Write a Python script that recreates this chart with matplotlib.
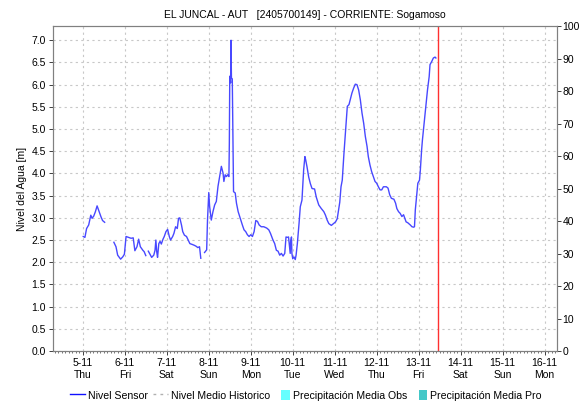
from datetime import datetime, timedelta

import matplotlib
matplotlib.use("Agg")
import matplotlib.pyplot as plt
import matplotlib.dates as mdates
from matplotlib.patches import Patch, Rectangle
from matplotlib.lines import Line2D
from matplotlib.legend_handler import HandlerPatch
import numpy as np

plt.rcParams["font.family"] = ["Liberation Sans", "DejaVu Sans"]

titulo = "EL JUNCAL - AUT   [2405700149] - CORRIENTE: Sogamoso"

# fractional day of november 2020, nan marks a gap in the sensor record
dias = [5.01, 5.05, 5.09, 5.14, 5.19, 5.22, 5.26, 5.30, 5.34, 5.38, 5.43, 5.47, 5.52,
        5.60,
        5.74, 5.79, 5.83, 5.90, 5.95, 5.99, 6.03, 6.09, 6.15, 6.20, 6.24, 6.29, 6.33,
        6.37, 6.43, 6.46, 6.50,
        6.53,
        6.56, 6.61, 6.64, 6.69, 6.72, 6.74, 6.76, 6.78, 6.81, 6.84, 6.87, 6.91, 6.94,
        6.98, 7.02, 7.06, 7.09, 7.14, 7.17, 7.21, 7.25, 7.28, 7.31, 7.35, 7.38, 7.42,
        7.47, 7.51, 7.55, 7.61, 7.66, 7.70, 7.74, 7.78, 7.81,
        7.86,
        7.90, 7.95, 7.97, 8.00, 8.02, 8.06, 8.10, 8.14, 8.18, 8.22, 8.26, 8.30, 8.34,
        8.36, 8.39, 8.42, 8.45, 8.48, 8.49, 8.50, 8.52, 8.53, 8.54, 8.56, 8.58, 8.59,
        8.63, 8.66, 8.70, 8.75, 8.80, 8.84, 8.88, 8.92, 8.96, 9.00, 9.04, 9.08, 9.12,
        9.16, 9.20, 9.25, 9.31, 9.38, 9.43, 9.47, 9.53, 9.57, 9.61, 9.65, 9.69, 9.73,
        9.77, 9.81, 9.84, 9.87, 9.90, 9.94, 9.95, 9.97, 9.98, 10.00, 10.03, 10.06,
        10.08, 10.11, 10.15, 10.18, 10.22, 10.26, 10.29, 10.31, 10.34, 10.38, 10.42,
        10.46, 10.52, 10.56, 10.62, 10.68, 10.74, 10.78, 10.82, 10.86, 10.92, 10.97,
        11.02, 11.06, 11.09, 11.12, 11.15, 11.18, 11.22, 11.26, 11.30, 11.34, 11.38,
        11.41, 11.45, 11.49, 11.53, 11.57, 11.61, 11.65, 11.69, 11.73, 11.77, 11.80,
        11.84, 11.88, 11.92, 11.96, 12.00, 12.04, 12.08, 12.12, 12.16, 12.20, 12.23,
        12.27, 12.31, 12.35, 12.41, 12.45, 12.48, 12.52, 12.56, 12.60, 12.64, 12.67,
        12.70, 12.74, 12.80, 12.84, 12.88, 12.90, 12.92, 12.95, 12.98, 13.02, 13.04,
        13.07, 13.09, 13.13, 13.17, 13.21, 13.25, 13.27, 13.31, 13.35, 13.39, 13.41]
nivel = [2.58, 2.56, 2.76, 2.84, 3.06, 2.99, 3.04, 3.14, 3.27, 3.16, 3.03, 2.94, 2.90,
         np.nan,
         2.45, 2.35, 2.16, 2.07, 2.12, 2.18, 2.58, 2.56, 2.54, 2.55, 2.26, 2.35, 2.52,
         2.35, 2.27, 2.24, 2.15,
         np.nan,
         2.25, 2.16, 2.11, 2.16, 2.27, 2.50, 2.24, 2.11, 2.42, 2.47, 2.41, 2.52, 2.58,
         2.69, 2.74, 2.58, 2.50, 2.58, 2.65, 2.80, 2.76, 2.99, 3.00, 2.84, 2.69, 2.61,
         2.58, 2.50, 2.42, 2.40, 2.38, 2.36, 2.33, 2.35, 2.09,
         np.nan,
         2.22, 2.28, 2.95, 3.57, 3.26, 2.95, 3.14, 3.29, 3.37, 3.71, 3.93, 4.16, 4.01,
         3.82, 3.97, 3.93, 3.97, 3.93, 4.68, 6.19, 6.04, 7.00, 6.15, 6.13, 4.46, 3.59,
         3.56, 3.33, 3.14, 2.99, 2.84, 2.73, 2.69, 2.62, 2.58, 2.62, 2.58, 2.69, 2.94,
         2.92, 2.84, 2.80, 2.80, 2.77, 2.73, 2.65, 2.50, 2.42, 2.27, 2.25, 2.16, 2.20,
         2.14, 2.20, 2.57, 2.56, 2.57, 2.20, 2.46, 2.57, 2.20, 2.08, 2.12, 2.06,
         2.16, 2.42, 2.87, 3.25, 3.40, 4.08, 4.38, 4.30, 4.15, 3.92, 3.77,
         3.66, 3.65, 3.47, 3.29, 3.21, 3.14, 3.06, 2.95, 2.87, 2.83, 2.87,
         2.91, 2.98, 3.17, 3.35, 3.70, 3.85, 4.45, 4.98, 5.51, 5.55, 5.70,
         5.81, 5.92, 6.01, 6.00, 5.88, 5.66, 5.36, 5.13, 4.83, 4.61, 4.38,
         4.19, 4.04, 3.93, 3.82, 3.78, 3.70, 3.63, 3.63, 3.70, 3.70, 3.70,
         3.67, 3.52, 3.44, 3.42, 3.33, 3.21, 3.14, 3.10, 3.03, 3.07, 2.99,
         2.91, 2.89, 2.84, 2.80, 2.79, 2.80, 3.18, 3.48, 3.78, 3.85, 4.08,
         4.53, 4.76, 5.13, 5.51, 5.88, 6.18, 6.45, 6.52, 6.60, 6.62, 6.60]

dia_actual = 13.45
ticks_dias = list(range(5, 17))
dias_semana = ["Thu", "Fri", "Sat", "Sun", "Mon", "Tue", "Wed", "Thu", "Fri", "Sat", "Sun", "Mon"]

base = datetime(2020, 10, 31)


def a_fecha(d):
    return base + timedelta(days=d)


def barra_estrecha(legend, orig_handle, xdescent, ydescent, width, height, fontsize):
    # narrow colour block at the right end of the handle box
    w = 6
    return Rectangle((-xdescent + width - w, -ydescent), w, height)


fechas = [a_fecha(d) for d in dias]

fig = plt.figure(figsize=(5.8, 4.04), dpi=100)
ax = fig.add_axes([0.0914, 0.131, 0.8686, 0.8046])
ax2 = ax.twinx()

azul = "#4848ff"
ax.plot(fechas, nivel, color=azul, lw=1.0)
ax.axvline(a_fecha(dia_actual), color="#ff3030", lw=1.0)

ax.set_xlim(a_fecha(4.29), a_fecha(16.29))
ax.set_ylim(0, 7.32)
ax.set_yticks(np.arange(0, 7.01, 0.5))
ax.set_yticklabels([f"{v:.1f}" for v in np.arange(0, 7.01, 0.5)])
ax2.set_ylim(0, 100)
ax2.set_yticks(range(0, 101, 10))

ax.set_xticks([a_fecha(d) for d in ticks_dias])
ax.set_xticklabels([f"{d}-11\n{s}" for d, s in zip(ticks_dias, dias_semana)])
ax.xaxis.set_minor_locator(mdates.HourLocator(byhour=range(0, 24, 2)))

ax.grid(True, color="#c8c8c8", ls=(0, (2, 3)), lw=0.8)
for a in (ax, ax2):
    a.tick_params(labelsize=7.5, length=3, width=0.7, color="#404040", pad=2)
    for s in a.spines.values():
        s.set_color("#808080")
        s.set_linewidth(0.8)
ax2.tick_params(pad=1)
ax.tick_params(axis="x", which="minor", length=1.5, width=0.5, color="#404040")
ax.set_ylabel("Nivel del Agua [m]", fontsize=7.5, labelpad=3)
ax.set_title(titulo, fontsize=7.5, pad=6)

obs = Patch(facecolor="#66ffff", edgecolor="none")
pro = Patch(facecolor="#44c8c8", edgecolor="none")
handles = [
    Line2D([], [], color="#1010ff", lw=1.0),
    Line2D([], [], color="#b0b0b0", lw=1.0, ls=(0, (2, 3))),
    obs,
    pro,
]
etiquetas = ["Nivel Sensor", "Nivel Medio Historico", "Precipitación Media Obs", "Precipitación Media Pro"]
fig.legend(handles, etiquetas, loc="center", bbox_to_anchor=(0.527, 0.022), ncol=4,
           frameon=False, fontsize=7.6, handlelength=1.4, handletextpad=0.27,
           columnspacing=0.5, handleheight=1.2,
           handler_map={obs: HandlerPatch(patch_func=barra_estrecha),
                        pro: HandlerPatch(patch_func=barra_estrecha)})

fig.savefig("out.png", dpi=100)
